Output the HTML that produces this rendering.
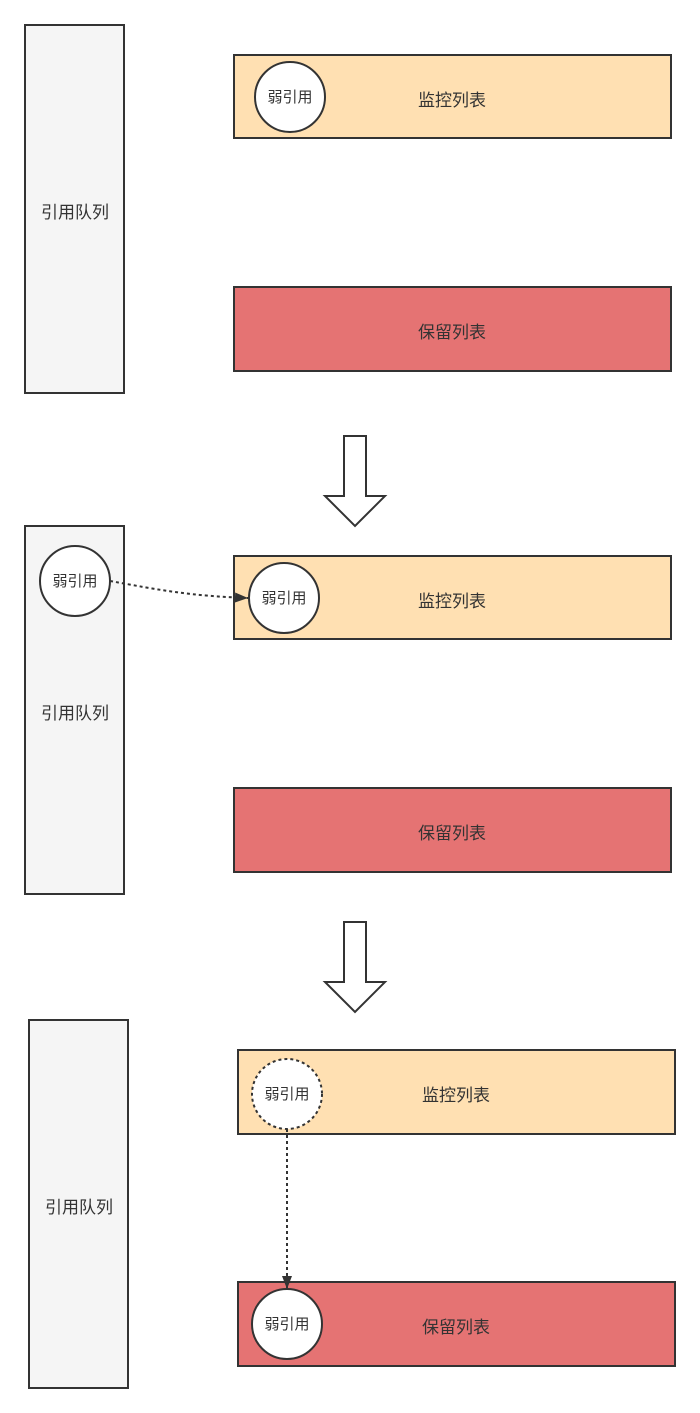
<!DOCTYPE html>
<html><head><meta charset="utf-8"><style>
html,body{margin:0;padding:0;background:#fff;}
svg{display:block;}
text{font-family:"Liberation Sans","Noto Sans CJK SC",sans-serif;fill:#333;}
</style></head><body>
<svg width="700" height="1413" viewBox="0 0 700 1413" xmlns="http://www.w3.org/2000/svg">
<defs>
<marker id="ah" markerWidth="14" markerHeight="12" refX="13" refY="6" orient="auto" markerUnits="userSpaceOnUse">
<path d="M0,1 L13,6 L0,11 z" fill="#333"/></marker>
</defs>
<g stroke="#333" stroke-width="2">
<rect x="25" y="25" width="99" height="368" fill="#f5f5f5"/>
<rect x="234" y="55" width="437" height="83" fill="#ffe0b2"/>
<circle cx="290" cy="97" r="35" fill="#fff"/>
<rect x="234" y="287" width="437" height="84" fill="#e57373"/>
<path d="M344,436 H366 V496 H385 L355,526 L325,496 H344 Z" fill="#fff"/>
<rect x="25" y="526" width="99" height="368" fill="#f5f5f5"/>
<circle cx="75" cy="581" r="35" fill="#fff"/>
<rect x="234" y="556" width="437" height="83" fill="#ffe0b2"/>
<circle cx="284" cy="598" r="35" fill="#fff"/>
<rect x="234" y="788" width="437" height="84" fill="#e57373"/>
<path d="M344,922 H366 V982 H385 L355,1012 L325,982 H344 Z" fill="#fff"/>
<rect x="29" y="1020" width="99" height="368" fill="#f5f5f5"/>
<rect x="238" y="1050" width="437" height="84" fill="#ffe0b2"/>
<circle cx="287" cy="1094" r="35" fill="#fff" stroke-dasharray="3,3"/>
<rect x="238" y="1282" width="437" height="84" fill="#e57373"/>
<circle cx="287" cy="1324" r="35" fill="#fff"/>
</g>
<path d="M110,581 C160,590 190,596 248,598" fill="none" stroke="#333" stroke-width="2" stroke-dasharray="3,3" marker-end="url(#ah)"/>
<path d="M287,1129 V1289" fill="none" stroke="#333" stroke-width="2" stroke-dasharray="3,3" marker-end="url(#ah)"/>
<g font-size="17" text-anchor="middle">
<text x="75" y="218">引用队列</text>
<text x="452" y="106">监控列表</text>
<text x="452" y="338">保留列表</text>
<text x="75" y="719">引用队列</text>
<text x="452" y="607">监控列表</text>
<text x="452" y="839">保留列表</text>
<text x="79" y="1213">引用队列</text>
<text x="456" y="1101">监控列表</text>
<text x="456" y="1333">保留列表</text>
</g>
<g font-size="15" text-anchor="middle">
<text x="290" y="102">弱引用</text>
<text x="75" y="586">弱引用</text>
<text x="284" y="603">弱引用</text>
<text x="287" y="1099">弱引用</text>
<text x="287" y="1329">弱引用</text>
</g>
</svg>
</body></html>
